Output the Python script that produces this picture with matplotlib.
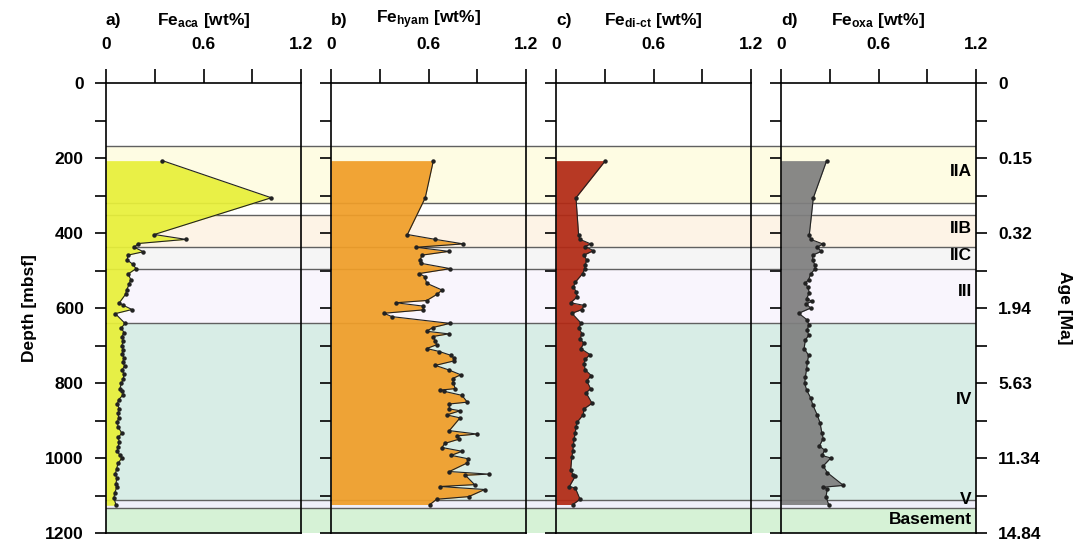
import numpy as np
import matplotlib
matplotlib.use("Agg")
import matplotlib.pyplot as plt
from matplotlib.ticker import MultipleLocator, FixedLocator

plt.rcParams["font.family"] = ["Liberation Sans", "DejaVu Sans"]
plt.rcParams["font.weight"] = "bold"
plt.rcParams["mathtext.fontset"] = "custom"
plt.rcParams["mathtext.rm"] = "Liberation Sans:bold"
plt.rcParams["mathtext.bf"] = "Liberation Sans:bold"
plt.rcParams["mathtext.default"] = "bf"

# --- data (depth in mbsf, Fe in wt%) ---
depth_aca = [207, 306, 404, 417, 428, 438, 450, 459, 472, 483, 495, 509, 524, 536, 552, 563,
             586, 593, 604, 615, 641, 653, 666, 676, 689, 701, 712, 723, 733, 744, 755, 765,
             776, 788, 801, 815, 820, 831, 844, 856, 869, 881, 893, 904, 917, 934, 945, 957,
             970, 982, 993, 1000, 1014, 1028, 1043, 1053, 1068, 1078, 1094, 1107, 1126]
fe_aca = [0.347, 1.017, 0.297, 0.492, 0.199, 0.174, 0.230, 0.135, 0.131, 0.164, 0.185, 0.137,
          0.152, 0.143, 0.127, 0.121, 0.082, 0.107, 0.160, 0.057, 0.117, 0.094, 0.111, 0.098,
          0.107, 0.096, 0.107, 0.098, 0.111, 0.103, 0.115, 0.098, 0.111, 0.107, 0.094, 0.086,
          0.098, 0.107, 0.078, 0.070, 0.082, 0.074, 0.078, 0.070, 0.074, 0.098, 0.074, 0.082,
          0.074, 0.070, 0.086, 0.098, 0.074, 0.066, 0.057, 0.066, 0.062, 0.066, 0.053, 0.049,
          0.062]

depth_hyam = [207, 306, 404, 417, 429, 438, 449, 459, 472, 481, 495, 508, 516, 534, 552, 563,
              580, 586, 595, 605, 614, 623, 641, 652, 662, 669, 676, 687, 698, 708, 716, 726,
              733, 741, 753, 765, 778, 788, 801, 815, 819, 822, 833, 851, 856, 869, 874, 885,
              893, 927, 936, 941, 950, 961, 972, 982, 993, 1002, 1013, 1036, 1043, 1046, 1071,
              1076, 1084, 1103, 1110, 1124]
fe_hyam = [0.630, 0.580, 0.470, 0.642, 0.814, 0.523, 0.726, 0.560, 0.548, 0.556, 0.734, 0.544,
           0.576, 0.589, 0.683, 0.654, 0.589, 0.400, 0.568, 0.568, 0.326, 0.375, 0.732, 0.626,
           0.589, 0.724, 0.626, 0.642, 0.650, 0.589, 0.667, 0.736, 0.757, 0.757, 0.642, 0.724,
           0.798, 0.749, 0.753, 0.765, 0.671, 0.695, 0.806, 0.839, 0.728, 0.728, 0.794, 0.712,
           0.794, 0.728, 0.897, 0.777, 0.786, 0.700, 0.683, 0.806, 0.740, 0.843, 0.839, 0.728,
           0.970, 0.827, 0.884, 0.671, 0.946, 0.847, 0.650, 0.609]

depth_dict = [207, 306, 405, 417, 429, 436, 447, 459, 472, 484, 495, 508, 531, 543, 556, 570,
              586, 593, 604, 614, 641, 653, 668, 682, 694, 708, 724, 737, 748, 765, 780, 794,
              815, 826, 854, 869, 884, 904, 917, 932, 950, 966, 982, 996, 1032, 1046, 1048,
              1076, 1080, 1110, 1124]
fe_dict = [0.304, 0.123, 0.139, 0.148, 0.213, 0.180, 0.230, 0.172, 0.189, 0.180, 0.177, 0.164,
           0.119, 0.107, 0.123, 0.131, 0.090, 0.172, 0.160, 0.098, 0.156, 0.139, 0.160, 0.148,
           0.172, 0.152, 0.209, 0.180, 0.172, 0.180, 0.217, 0.189, 0.213, 0.185, 0.222, 0.172,
           0.168, 0.131, 0.123, 0.119, 0.111, 0.107, 0.103, 0.098, 0.090, 0.107, 0.119, 0.082,
           0.119, 0.148, 0.103]

depth_oxa = [207, 306, 405, 417, 429, 438, 449, 459, 472, 484, 495, 509, 524, 534, 545, 559,
             575, 582, 589, 600, 614, 632, 645, 659, 673, 685, 708, 726, 744, 762, 783, 801,
             819, 840, 858, 886, 906, 934, 948, 968, 979, 993, 1000, 1021, 1039, 1073, 1078,
             1082, 1103, 1124]
fe_oxa = [0.281, 0.199, 0.174, 0.183, 0.256, 0.224, 0.248, 0.195, 0.195, 0.207, 0.211, 0.183,
          0.170, 0.150, 0.166, 0.174, 0.158, 0.191, 0.154, 0.183, 0.109, 0.162, 0.170, 0.162,
          0.170, 0.150, 0.142, 0.170, 0.162, 0.158, 0.150, 0.146, 0.158, 0.183, 0.195, 0.224,
          0.240, 0.252, 0.260, 0.236, 0.269, 0.252, 0.306, 0.260, 0.285, 0.384, 0.260, 0.285,
          0.277, 0.293]

# lithostratigraphic units
unit_names = ["IIA", "", "IIB", "IIC", "III", "IV", "V", "Basement"]
unit_top = [168, 321, 353, 436, 497, 641, 1112, 1134]
unit_bottom = [321, 353, 436, 497, 641, 1112, 1134, 1200]
unit_colors = ["#fefce3", "#ffffff", "#fdf3e6", "#f5f5f5", "#f9f5fd", "#d8ede6", "#efeffa", "#d6f2d6"]
label_depth = [237, None, 387, 461, 557, 845, 1112, 1165]

age_depth = [0, 200, 400, 600, 800, 1000, 1200]
age_labels = ["0", "0.15", "0.32", "1.94", "5.63", "11.34", "14.84"]

panels = [
    ("a)", r"Fe$_{aca}$ [wt%]", depth_aca, fe_aca, "#e8f03a"),
    ("b)", r"Fe$_{hyam}$ [wt%]", depth_hyam, fe_hyam, "#f09e28"),
    ("c)", r"Fe$_{di\text{-}ct}$ [wt%]", depth_dict, fe_dict, "#b22a15"),
    ("d)", r"Fe$_{oxa}$ [wt%]", depth_oxa, fe_oxa, "#7f7f7f"),
]

FS = 12.5
W, H = 1088, 542
fig = plt.figure(figsize=(W / 100, H / 100), dpi=100)

bottom = 1 - 533 / H
height = 450 / H
pw = 195 / W
lefts = [106, 331, 556, 781]

# background bands across all panels
ax_bg = fig.add_axes([106 / W, bottom, (976 - 106) / W, height], zorder=0)
for top, bot, col in zip(unit_top, unit_bottom, unit_colors):
    ax_bg.axhspan(top, bot, color=col, lw=0)
for top in unit_top:
    ax_bg.axhline(top, color="#606060", lw=1.0)
ax_bg.set_ylim(1200, 0)
ax_bg.set_xlim(0, 1)
ax_bg.axis("off")

axes = []
for i, (tag, title, dep, val, col) in enumerate(panels):
    ax = fig.add_axes([lefts[i] / W, bottom, pw, height], zorder=1)
    ax.set_facecolor("none")
    ax.fill_betweenx(dep, 0, val, color=col, alpha=0.93, lw=0)
    ax.plot(val, dep, color="#222222", lw=0.8, marker="o", ms=2.2)
    ax.set_xlim(0, 1.2)
    ax.set_ylim(1200, 0)
    ax.xaxis.tick_top()
    ax.xaxis.set_major_locator(FixedLocator([0, 0.6, 1.2]))
    ax.xaxis.set_minor_locator(FixedLocator([0.3, 0.9]))
    ax.set_xticklabels(["0", "0.6", "1.2"])
    ax.tick_params(axis="x", which="both", direction="out", length=10, width=1.2, pad=12,
                   labelsize=FS)
    ax.yaxis.set_major_locator(MultipleLocator(200))
    ax.yaxis.set_minor_locator(MultipleLocator(100))
    ax.tick_params(axis="y", which="both", direction="out", length=8, width=1.2, pad=8,
                   labelsize=FS, labelleft=(i == 0))
    for s in ax.spines.values():
        s.set_linewidth(1.2)
    ax.text(0.0, 1.14, tag, transform=ax.transAxes, ha="left", va="center",
            fontsize=FS, fontweight="bold")
    ax.text(0.5, 1.14, title, transform=ax.transAxes, ha="center", va="center",
            fontsize=FS, fontweight="bold")
    axes.append(ax)

axes[0].set_ylabel("Depth [mbsf]", fontsize=FS, fontweight="bold", labelpad=6)

ax_d = axes[-1]
for name, yd in zip(unit_names, label_depth):
    if name:
        ax_d.text(1.175, yd, name, ha="right", va="center", fontsize=FS, fontweight="bold")

ax_r = ax_d.twinx()
ax_r.set_ylim(1200, 0)
ax_r.yaxis.set_major_locator(FixedLocator(age_depth))
ax_r.set_yticklabels(age_labels)
ax_r.yaxis.set_minor_locator(MultipleLocator(100))
ax_r.tick_params(axis="y", which="both", direction="out", length=8, width=1.2, pad=8,
                 labelsize=FS)
for s in ax_r.spines.values():
    s.set_visible(False)
ax_r.set_ylabel("Age [Ma]", rotation=270, fontsize=FS, fontweight="bold", labelpad=22)

fig.savefig("out.png", dpi=100)
